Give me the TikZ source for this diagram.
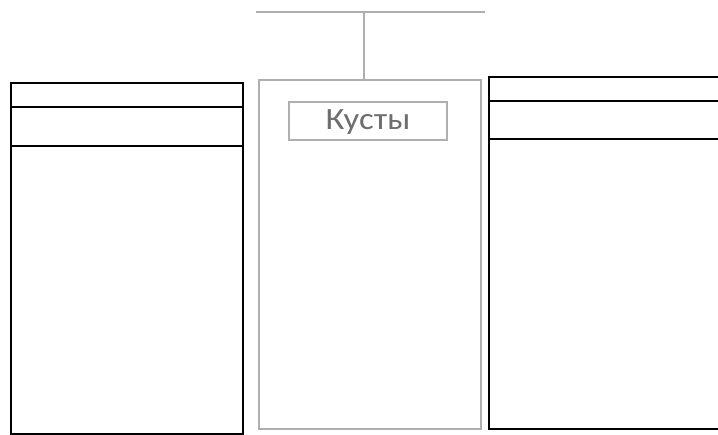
\documentclass[tikz,border=0pt]{standalone}
\usepackage{fontspec}
\setmainfont{Carlito}
\definecolor{boxgray}{RGB}{175,175,175}
\definecolor{txtgray}{RGB}{110,110,110}
\begin{document}
\begin{tikzpicture}[x=1pt,y=-1pt,
  blackbox/.style={draw=black,line width=2.6pt,inner sep=0pt,outer sep=0pt},
  blackline/.style={draw=black,line width=2.6pt},
  graybox/.style={draw=boxgray,line width=2.4pt,inner sep=0pt,outer sep=0pt},
  grayline/.style={draw=boxgray,line width=1.8pt}]
\useasboundingbox[fill=white] (0,0) rectangle (718,435);
% top line and connector
\coordinate (tl) at (256,12);
\coordinate (tr) at (485,12);
\coordinate (tm) at (364,12);
\draw[grayline] (tl) -- (tr);
% central box
\node[graybox,anchor=north west,minimum width=222pt,minimum height=349pt] (center) at (259,80) {};
\draw[grayline] (tm) -- (tm |- center.north);
\node[graybox,anchor=north west,minimum width=158pt,minimum height=38pt] (kbox) at (289,102) {};
\node[text=txtgray,font=\fontsize{31}{31}\selectfont,xscale=1.12] (kusty) at ([yshift=-1pt]kbox.center) {Кусты};
% left box
\node[blackbox,anchor=north west,minimum width=232pt,minimum height=351pt] (left) at (11,83) {};
\coordinate (l1) at (11,107);
\coordinate (l2) at (11,146);
\draw[blackline] (l1) -- (l1 -| left.east);
\draw[blackline] (l2) -- (l2 -| left.east);
% right box (extends past the right edge)
\node[blackbox,anchor=north west,minimum width=235pt,minimum height=352pt] (right) at (489,77) {};
\coordinate (r1) at (489,101);
\coordinate (r2) at (489,139);
\draw[blackline] (r1) -- (r1 -| right.east);
\draw[blackline] (r2) -- (r2 -| right.east);
\end{tikzpicture}
\end{document}
